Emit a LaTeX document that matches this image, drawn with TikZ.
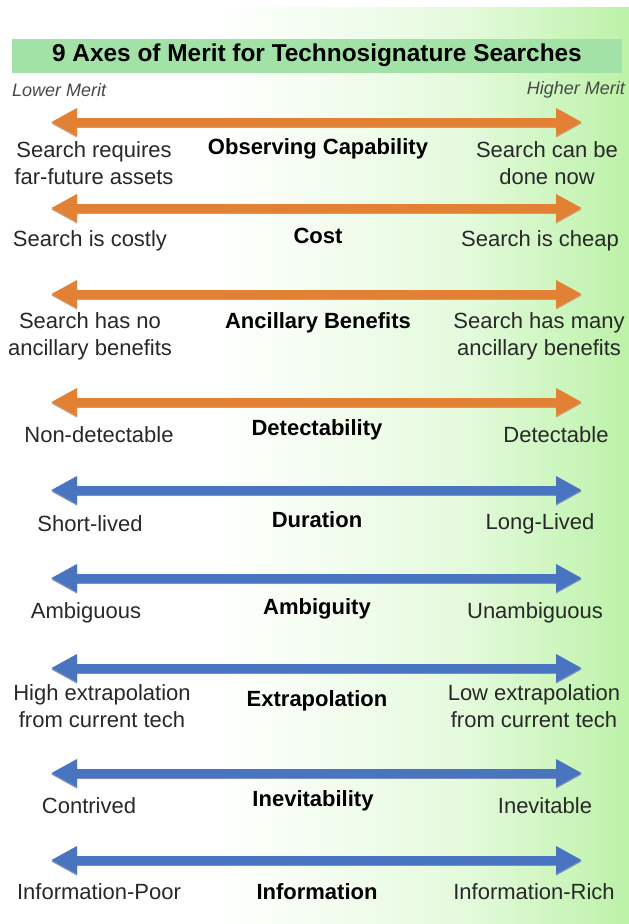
\documentclass[tikz,border=0pt]{standalone}
\usepackage{fontspec}
\setmainfont{Liberation Sans}
\usetikzlibrary{arrows.meta}
\definecolor{bgmid}{RGB}{228,250,220}
\definecolor{bgright}{RGB}{188,242,168}
\definecolor{titlefill}{RGB}{162,226,166}
\definecolor{orangeA}{RGB}{226,128,52}
\definecolor{orangeD}{RGB}{170,90,30}
\definecolor{blueA}{RGB}{72,116,192}
\definecolor{blueD}{RGB}{40,70,130}
\definecolor{txt}{RGB}{40,40,40}
\pgfdeclarehorizontalshading{bgshade}{100bp}{color(0bp)=(white); color(25bp)=(white); color(42bp)=(white); color(62bp)=(bgmid); color(75bp)=(bgright); color(100bp)=(bgright)}
\tikzset{
  lab/.style={font=\fontsize{22}{27}\selectfont, text=txt, align=center, inner sep=0pt},
  head/.style={font=\bfseries\fontsize{22}{26}\selectfont, text=black, inner sep=0pt},
  merit/.style={font=\itshape\fontsize{18}{21}\selectfont, text=txt!85, inner sep=0pt},
  shaft/.style={line width=9pt, {Triangle[length=26pt,width=26pt]}-{Triangle[length=26pt,width=26pt]}, shorten <=0pt, shorten >=0pt},
  orgarrow/.style={shaft, draw=orangeA, fill=orangeA},
  orgshadow/.style={shaft, draw=orangeD!60, fill=orangeD!60},
  bluarrow/.style={shaft, draw=blueA, fill=blueA},
  blushadow/.style={shaft, draw=blueD!60, fill=blueD!60},
}
\begin{document}
\begin{tikzpicture}[x=1pt,y=-1pt]
\useasboundingbox (0,0) rectangle (629,924);
\shade[shading=bgshade] (0,0) rectangle (629,924);
\fill[white] (0,0) rectangle (629,7);
% title
\node[fill=titlefill, minimum width=610pt, minimum height=34pt, inner sep=0pt,
      font=\bfseries\fontsize{24.4}{28}\selectfont] (title) at (317,55.5) {9 Axes of Merit for Technosignature Searches};
\node[merit, anchor=west] (lower) at (12,90) {Lower Merit};
\node[merit, anchor=east] (higher) at (625,90) {Higher Merit};
% arrows
\foreach \n/\y/\s/\c in {1/122/orgshadow/orgarrow,2/208/orgshadow/orgarrow,3/294/orgshadow/orgarrow,4/402/orgshadow/orgarrow,
                        5/490/blushadow/bluarrow,6/578/blushadow/bluarrow,7/668/blushadow/bluarrow,8/773/blushadow/bluarrow,9/860/blushadow/bluarrow}{
  \coordinate (l\n) at (51,\y);
  \coordinate (r\n) at (582,\y);
  \coordinate (ls\n) at (51,\y+1.5);
  \coordinate (rs\n) at (582,\y+1.5);
  \draw[\s] (ls\n) -- (rs\n);
  \draw[\c] (l\n) -- (r\n);
}
% row 1
\node[lab] (a1) at (94,163) {Search requires\\far-future assets};
\node[head] (h1) at (318,149) {Observing Capability};
\node[lab] (b1) at (547,163) {Search can be\\done now};
% row 2
\node[lab] (a2) at (90,241) {Search is costly};
\node[head] (h2) at (318,236) {Cost};
\node[lab] (b2) at (540,241) {Search is cheap};
% row 3
\node[lab] (a3) at (90,336) {Search has no\\ancillary benefits};
\node[head] (h3) at (318,323) {Ancillary Benefits};
\node[lab] (b3) at (539,336) {Search has many\\ancillary benefits};
% row 4
\node[lab] (a4) at (99,435) {Non-detectable};
\node[head] (h4) at (317,430) {Detectability};
\node[lab] (b4) at (556,435) {Detectable};
% row 5
\node[lab] (a5) at (90,524) {Short-lived};
\node[head] (h5) at (317,520) {Duration};
\node[lab] (b5) at (540,524) {Long-Lived};
% row 6
\node[lab] (a6) at (86,613) {Ambiguous};
\node[head] (h6) at (317,609) {Ambiguity};
\node[lab] (b6) at (535,613) {Unambiguous};
% row 7
\node[lab] (a7) at (102,706) {High extrapolation\\from current tech};
\node[head] (h7) at (317,701) {Extrapolation};
\node[lab] (b7) at (534,706) {Low extrapolation\\from current tech};
% row 8
\node[lab] (a8) at (89,806) {Contrived};
\node[head] (h8) at (313,801) {Inevitability};
\node[lab] (b8) at (545,806) {Inevitable};
% row 9
\node[lab] (a9) at (99,892) {Information-Poor};
\node[head] (h9) at (317,892) {Information};
\node[lab] (b9) at (534,892) {Information-Rich};
\end{tikzpicture}
\end{document}
